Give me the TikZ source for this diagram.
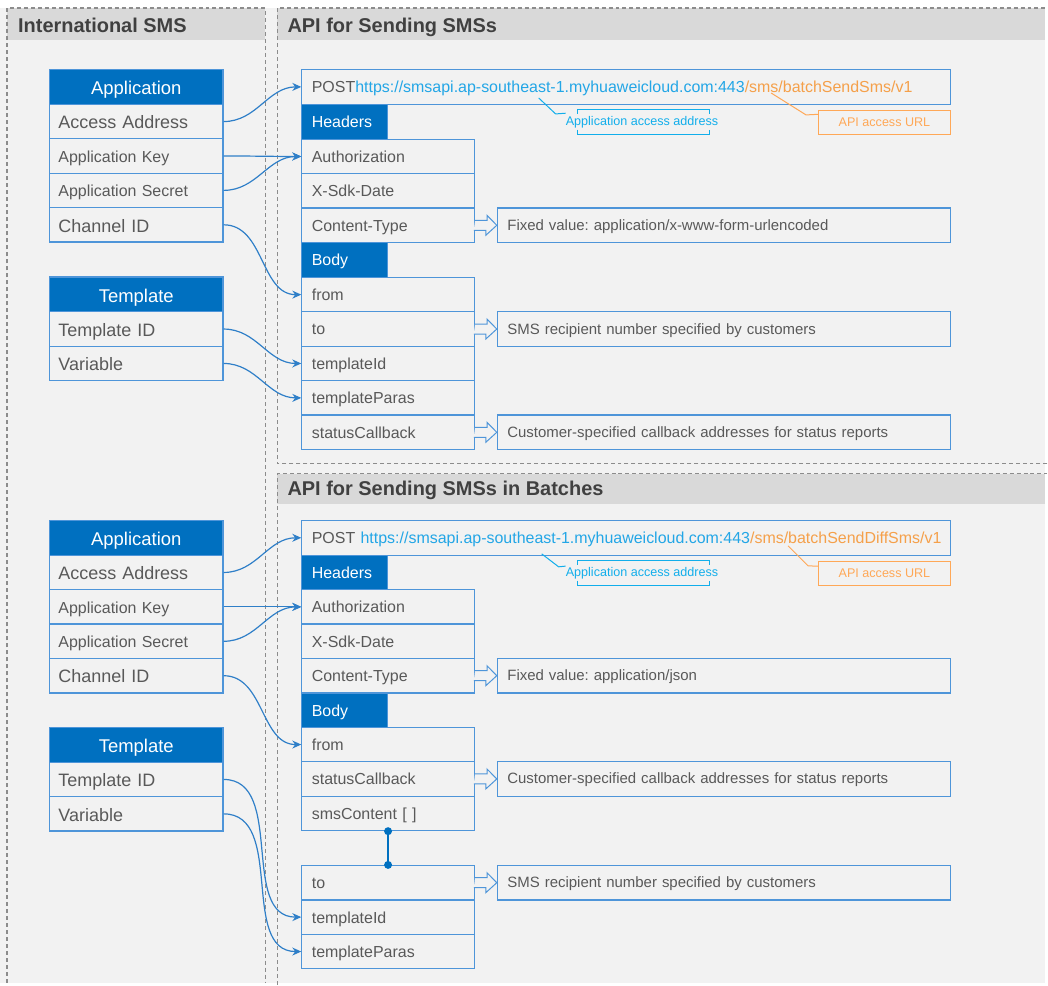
\documentclass[tikz,border=0pt]{standalone}
\usepackage{fontspec}
\setmainfont{Liberation Sans}
\usetikzlibrary{arrows.meta,calc}
\definecolor{hdr}{HTML}{0070C0}
\definecolor{bx}{HTML}{4E95D9}
\definecolor{txt}{HTML}{595959}
\definecolor{bg}{HTML}{F2F2F2}
\definecolor{phdr}{HTML}{D9D9D9}
\definecolor{ttl}{HTML}{404040}
\definecolor{urlc}{HTML}{23A6E6}
\definecolor{orgc}{HTML}{F5A04A}
\definecolor{anc}{HTML}{12AEEB}
\definecolor{ano}{HTML}{FFA857}
\definecolor{cn}{HTML}{2F7FC8}
\definecolor{dsh}{HTML}{8C8C8C}
\newcommand\fsT{\fontsize{20}{22}\selectfont\bfseries}
\newcommand\fsH{\fontsize{18.5}{21}\selectfont}
\newcommand\fsL{\fontsize{18}{20}\selectfont}
\newcommand\fsM{\fontsize{16}{18}\selectfont}
\newcommand\fsV{\fontsize{15}{17}\selectfont}
\newcommand\fsS{\fontsize{12.6}{14}\selectfont}
\frenchspacing
\begin{document}
\frenchspacing
\begin{tikzpicture}[x=1pt,y=-1pt,
  frame/.style={draw=dsh, line width=1.1pt, dash pattern=on 4pt off 3pt},
  lhead/.style={fill=hdr, draw=bx, line width=1.2pt, text=white, minimum width=174pt, minimum height=35pt, anchor=north west, inner sep=0pt, font=\fsH, text height=15.4pt, text depth=0pt},
  lrow/.style={fill=bg, draw=bx, line width=1.2pt, text=txt, text width=156pt, inner xsep=9pt, inner ysep=0pt, minimum height=34.5pt, anchor=north west, align=left, font=\fsL, text height=14.6pt, text depth=0pt},
  tab/.style={fill=hdr, draw=bx, line width=1.2pt, text=white, text width=66pt, inner xsep=10pt, inner ysep=0pt, minimum height=35pt, anchor=north west, align=left, font=\fsM, text height=11.6pt, text depth=0pt},
  rrow/.style={fill=bg, draw=bx, line width=1.2pt, text=txt, text width=153pt, inner xsep=10pt, inner ysep=0pt, minimum height=34.5pt, anchor=north west, align=left, font=\fsM, text height=11.8pt, text depth=0pt},
  postbox/.style={fill=bg, draw=bx, line width=1.2pt, text=txt, text width=630pt, inner xsep=10pt, inner ysep=0pt, minimum height=35pt, anchor=north west, align=left, font=\fsM, text height=11.8pt, text depth=0pt},
  valbox/.style={fill=bg, draw=bx, line width=1.2pt, text=txt, text width=434pt, inner xsep=10pt, inner ysep=0pt, minimum height=34.5pt, anchor=north west, align=left, font=\fsV, text height=10pt, text depth=0pt},
  conn/.style={draw=cn, line width=1.2pt, -{Stealth[length=9pt,width=8pt]}},
  harrow/.style={draw=bx, fill=bg, line width=1pt, line join=miter},
  anbox/.style={draw=ano, line width=1.2pt, fill=bg, minimum width=132pt, minimum height=24pt, anchor=north west, inner sep=0pt, text=ano, font=\fsS, text height=8.4pt, text depth=0pt},
  antext/.style={text=anc, font=\fsS, inner sep=0pt, anchor=west, text height=9pt, text depth=0pt},
  dotc/.style={circle, fill=hdr, inner sep=0pt, minimum size=8pt}
]
% background
\fill[white] (0,0) rectangle (1048,985);
\fill[bg] (0,8) rectangle (1048,985);
% left panel
\fill[phdr] (7,8) rectangle (266,40);
\draw[frame] (7,985) -- (7,8) -- (266,8) -- (266,985);
\node[anchor=west, text=ttl, font=\fsT, inner sep=0pt] (tl) at (18,25) {International SMS};
% upper right panel
\fill[phdr] (278,8) rectangle (1048,40);
\draw[frame] (1050,465) -- (278,465) -- (278,8) -- (1050,8);
\node[anchor=west, text=ttl, font=\fsT, inner sep=0pt] (tu) at (288,27) {API for Sending SMSs};
% lower right panel
\fill[phdr] (278,475) rectangle (1048,505);
\draw[frame] (278,987) -- (278,475) -- (1050,475);
\node[anchor=west, text=ttl, font=\fsT, inner sep=0pt] (tb) at (288,492) {API for Sending SMSs in Batches};

% ===== Upper left boxes =====
\node[lhead] (ah1) at (49,69) {Application};
\node[lrow] (aacc1) at (49,104) {Access Address};
\node[lrow, font=\fsM, text height=12.4pt] (akey1) at (49,138.5) {Application Key};
\node[lrow, font=\fsM, text height=12.4pt] (asec1) at (49,173) {Application Secret};
\node[lrow] (ach1) at (49,207.5) {Channel ID};
\node[lhead] (th1) at (49,277) {Template};
\node[lrow] (tid1) at (49,312) {Template ID};
\node[lrow] (tvar1) at (49,346.5) {Variable};

% ===== Upper right =====
\node[postbox] (post1) at (302,69) {POST\textcolor{urlc}{https://smsapi.ap-southeast-1.myhuaweicloud.com:443}\textcolor{orgc}{/sms/batchSendSms/v1}};
\node[tab] (hd1) at (302,104) {Headers};
\node[rrow] (auth1) at (302,139) {Authorization};
\node[rrow] (xsdk1) at (302,173.5) {X-Sdk-Date};
\node[rrow] (ct1) at (302,208) {Content-Type};
\node[tab] (bd1) at (302,242.5) {Body};
\node[rrow] (from1) at (302,277.5) {from};
\node[rrow] (to1) at (302,312) {to};
\node[rrow] (rtid1) at (302,346.5) {templateId};
\node[rrow] (rtp1) at (302,381) {templateParas};
\node[rrow] (scb1) at (302,415.5) {statusCallback};
\node[valbox] (fv1) at (498,208) {Fixed value: application/x-www-form-urlencoded};
\node[valbox] (sms1) at (498,312) {SMS recipient number specified by customers};
\node[valbox] (cus1) at (498,415.5) {Customer-specified callback addresses for status reports};
% annotations
\draw[anc, line width=1pt] (579,114) -- (579,110) -- (711,110) -- (711,114) (579,130) -- (579,135) -- (711,135) -- (711,130);
\node[antext] (aaa1) at (567,121.5) {Application access address};
\draw[anc, line width=1pt] ($(post1.south west)+(238,-7)$) -- ++(17,16) -- ($(aaa1.west)+(0,-8)$);
\node[anbox] (aurl1) at (820,110) {API access URL};
\draw[ano, line width=1pt] ($(post1.south west)+(471,-12)$) -- ++(35,22) -- ($(aurl1.west)+(0,-8)$);

% ===== Lower left boxes =====
\node[lhead] (ah2) at (49,521) {Application};
\node[lrow] (aacc2) at (49,556) {Access Address};
\node[lrow, font=\fsM, text height=12.4pt] (akey2) at (49,590.5) {Application Key};
\node[lrow, font=\fsM, text height=12.4pt] (asec2) at (49,625) {Application Secret};
\node[lrow] (ach2) at (49,659.5) {Channel ID};
\node[lhead] (th2) at (49,729) {Template};
\node[lrow] (tid2) at (49,763.5) {Template ID};
\node[lrow] (tvar2) at (49,798) {Variable};

% ===== Lower right =====
\node[postbox] (post2) at (302,521) {POST \textcolor{urlc}{https://smsapi.ap-southeast-1.myhuaweicloud.com:443}\textcolor{orgc}{/sms/batchSendDiffSms/v1}};
\node[tab] (hd2) at (302,556) {Headers};
\node[rrow] (auth2) at (302,590.5) {Authorization};
\node[rrow] (xsdk2) at (302,625) {X-Sdk-Date};
\node[rrow] (ct2) at (302,659.5) {Content-Type};
\node[tab] (bd2) at (302,694) {Body};
\node[rrow] (from2) at (302,728.5) {from};
\node[rrow] (scb2) at (302,763) {statusCallback};
\node[rrow] (smsc2) at (302,797.5) {smsContent [ ]};
\node[rrow] (to2) at (302,867) {to};
\node[rrow] (rtid2) at (302,901.5) {templateId};
\node[rrow] (rtp2) at (302,936) {templateParas};
\node[valbox] (fv2) at (498,659.5) {Fixed value: application/json};
\node[valbox] (cus2) at (498,763) {Customer-specified callback addresses for status reports};
\node[valbox] (sms2) at (498,867) {SMS recipient number specified by customers};
% annotations
\draw[anc, line width=1pt] (579,566) -- (579,562) -- (711,562) -- (711,566) (579,582) -- (579,587) -- (711,587) -- (711,582);
\node[antext] (aaa2) at (567,573.5) {Application access address};
\draw[anc, line width=1pt] ($(post2.south west)+(241,-2)$) -- ++(17,13) -- ($(aaa2.west)+(0,-6)$);
\node[anbox] (aurl2) at (820,562) {API access URL};
\draw[ano, line width=1pt] ($(post2.south west)+(488,-10)$) -- ++(20,20) -- ($(aurl2.west)+(0,-7)$);

% smsContent link
\node[dotc] (d1) at ($(smsc2.south west)+(87,0)$) {};
\node[dotc] (d2) at ($(to2.north west)+(87,0)$) {};
\draw[hdr, line width=1.5pt] (d1.center) -- (d2.center);

% hollow arrows
\foreach \a/\b in {ct1/fv1, to1/sms1, scb1/cus1, ct2/fv2, scb2/cus2, to2/sms2}{
  \path[harrow] (\a.east) ++(0,-5) -- ++(12,0) -- ++(0,-5) -- (\b.west) -- ++(-11,10) -- ++(0,-5) -- ++(-12,0);
}

% connectors
\draw[conn] (aacc1.east) to[out=0,in=180] (post1.west);
\draw[conn] (akey1.east) to[out=0,in=180] (auth1.west);
\draw[conn] (asec1.east) to[out=0,in=180] (auth1.west);
\draw[conn] (ach1.east) to[out=0,in=180] (from1.west);
\draw[conn] (tid1.east) to[out=0,in=180] (rtid1.west);
\draw[conn] (tvar1.east) to[out=0,in=180] (rtp1.west);
\draw[conn] (aacc2.east) to[out=0,in=180] (post2.west);
\draw[conn] (akey2.east) to[out=0,in=180] (auth2.west);
\draw[conn] (asec2.east) to[out=0,in=180] (auth2.west);
\draw[conn] (ach2.east) to[out=0,in=180] (from2.west);
\draw[conn] (tid2.east) to[out=0,in=180] (rtid2.west);
\draw[conn] (tvar2.east) to[out=0,in=180] (rtp2.west);
\end{tikzpicture}
\end{document}
